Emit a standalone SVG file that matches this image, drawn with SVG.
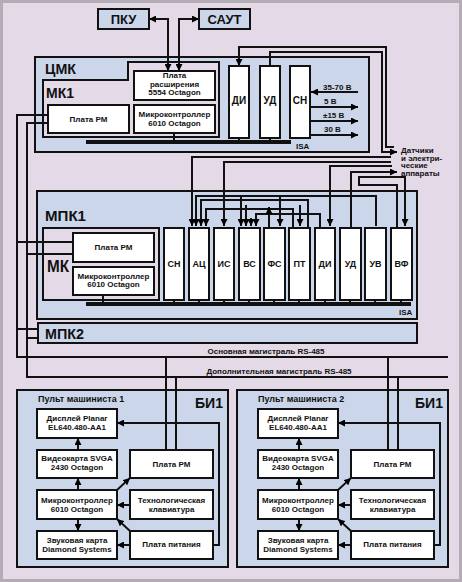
<svg xmlns="http://www.w3.org/2000/svg" width="462" height="582" viewBox="0 0 462 582">
<defs>
<marker id="ah" viewBox="0 0 10 10" refX="10" refY="5" markerWidth="7" markerHeight="7" markerUnits="userSpaceOnUse" orient="auto-start-reverse"><path d="M0,0 L10,5 L0,10 z" fill="#000"/></marker>
<style>
text{font-family:"Liberation Sans",Arial,sans-serif;fill:#111;font-weight:bold}
.bx{fill:#fff;stroke:#111;stroke-width:2}
.blue{fill:#ccd6ea;stroke:#111;stroke-width:2}
.pink{fill:#e4d9e6;stroke:#111;stroke-width:2}
.t{font-size:8px;text-anchor:middle}
.s{font-size:10px;text-anchor:middle}
.big{font-size:15px}
.w{fill:none;stroke:#111;stroke-width:2}
.a{fill:none;stroke:#111;stroke-width:2;marker-end:url(#ah)}
.aa{fill:none;stroke:#111;stroke-width:2;marker-end:url(#ah);marker-start:url(#ah)}
.bus{fill:none;stroke:#111;stroke-width:4}
</style>
</defs>
<rect x="1.5" y="1.5" width="459" height="579" fill="#e4d9e6" stroke="#b4acb4" stroke-width="3"/>

<!-- containers -->
<g id="cmk">
<rect class="blue" x="35" y="57" width="334" height="95"/>
<text class="big" x="45" y="74" textLength="31" lengthAdjust="spacingAndGlyphs">ЦМК</text>
</g>
<g id="mk1">
<path class="pink" d="M43 80 H128 V62 H219 V137 H43 Z"/>
<text class="big" x="46" y="98" textLength="28" lengthAdjust="spacingAndGlyphs">МК1</text>
</g>
<g id="mpk1">
<rect class="blue" x="37" y="191" width="380" height="128"/>
<text class="big" x="45" y="221" textLength="41" lengthAdjust="spacingAndGlyphs">МПК1</text>
</g>
<g id="mk">
<rect class="pink" x="43" y="228" width="116" height="72"/>
<text x="47" y="272" style="font-size:16px" textLength="22" lengthAdjust="spacingAndGlyphs">МК</text>
</g>
<g id="mpk2">
<rect class="blue" x="38" y="323" width="379" height="20"/>
<text class="big" x="45" y="339" textLength="39" lengthAdjust="spacingAndGlyphs">МПК2</text>
</g>
<g id="bi1-left">
<rect class="blue" x="17" y="390" width="211" height="177"/>
<text x="38" y="402" style="font-size:9px">Пульт машиниста 1</text>
<text class="big" x="195" y="408" textLength="28" lengthAdjust="spacingAndGlyphs">БИ1</text>
</g>
<g id="bi1-right">
<rect class="blue" x="237" y="390" width="211" height="177"/>
<text x="258" y="402" style="font-size:9px">Пульт машиниста 2</text>
<text class="big" x="415" y="408" textLength="28" lengthAdjust="spacingAndGlyphs">БИ1</text>
</g>

<!-- connectors -->
<g id="connectors">
<path class="aa" d="M168 71 V19 H149"/>
<path class="aa" d="M179 71 V19 H199"/>
<path class="bus" d="M86 142 H291"/>
<path class="w" d="M174 133 V142 M239 138 V142 M270 138 V142"/>
<path class="a" d="M394 147 H386 V47 H239 V66"/>
<path class="a" d="M270 66 V52 H382 V152 H397"/>
<path class="a" d="M358 92 H311"/>
<path class="a" d="M311 107 H358"/>
<path class="a" d="M311 121 H358"/>
<path class="a" d="M311 135 H358"/>
<path class="w" d="M48 115 H17 V357 H448"/>
<path class="w" d="M48 123 H27 V377 H448"/>
<path class="w" d="M73 242 H17 M73 254 H27 M38 329 H17 M38 338 H27"/>
<path class="bus" d="M86 304 H411"/>
<path class="w" d="M103 295 V304 M174 300 V304 M199 300 V304 M224 300 V304 M249 300 V304 M274 300 V304 M299 300 V304 M325 300 V304 M350 300 V304 M375 300 V304 M401 300 V304"/>
<path class="a" d="M391 157 H192 V226"/>
<path class="a" d="M391 162 H224 V226"/>
<path class="a" d="M392 166 H330 V226"/>
<path class="a" d="M351 228 V172 H397"/>
<path class="a" d="M397 228 V185 H359 V177 H405 V226"/>
<path class="a" d="M308 228 V200 H201 V226"/>
<path class="a" d="M320 228 V214 H256 V226"/>
<path class="a" d="M376 226 V196 H196 V226"/>
<path class="a" d="M241 196 V226"/>
<path class="a" d="M293 228 V209 H206 V226"/>
<path class="a" d="M280 196 V226"/>
<path class="a" d="M246 205 V226"/>
<path class="a" d="M251 218 V226"/>
<path class="a" d="M300 205 V226"/>
<path class="a" d="M269 228 V207"/>
<path class="w" d="M166 357 V450 M176 377 V450 M388 357 V450 M398 377 V450"/>
</g>

<!-- top nodes -->
<g id="pku"><rect x="98" y="9" width="51" height="20" fill="#ccd6ea" stroke="#111" stroke-width="2"/><text x="123.5" y="24" style="font-size:13px;text-anchor:middle">ПКУ</text></g>
<g id="saut"><rect x="199" y="9" width="51" height="20" fill="#ccd6ea" stroke="#111" stroke-width="2"/><text x="224.5" y="24" style="font-size:13px;text-anchor:middle">САУТ</text></g>

<!-- CMK nodes -->
<g id="cmk-rm"><rect class="bx" x="48" y="105" width="81" height="28"/><text class="t" x="88.5" y="122">Плата РМ</text></g>
<g id="cmk-ext"><rect class="bx" x="134" y="71" width="81" height="29"/><text class="t" x="174.5" y="78">Плата</text><text class="t" x="174.5" y="86.5">расширения</text><text class="t" x="174.5" y="95">5554 Octagon</text></g>
<g id="cmk-mc"><rect class="bx" x="134" y="105" width="81" height="28"/><text class="t" x="174.5" y="117">Микроконтроллер</text><text class="t" x="174.5" y="125.5">6010 Octagon</text></g>
<g id="cmk-di"><rect class="bx" x="229" y="66" width="20" height="72"/><text class="s" x="239" y="104">ДИ</text></g>
<g id="cmk-ud"><rect class="bx" x="260" y="66" width="20" height="72"/><text class="s" x="270" y="104">УД</text></g>
<g id="cmk-sn"><rect class="bx" x="290" y="66" width="20" height="72"/><text class="s" x="300" y="104">СН</text></g>
<g id="cmk-labels">
<text x="323" y="90" style="font-size:8px">35-70 В</text>
<text x="324" y="104" style="font-size:8px">5 В</text>
<text x="323" y="118" style="font-size:8px">±15 В</text>
<text x="324" y="132" style="font-size:8px">30 В</text>
<text x="296" y="149" style="font-size:8px">ISA</text>
</g>
<g id="sensors">
<text x="401" y="153" style="font-size:8px">Датчики</text>
<text x="401" y="160.5" style="font-size:8px">и электри-</text>
<text x="401" y="168" style="font-size:8px">ческие</text>
<text x="401" y="175.5" style="font-size:8px">аппараты</text>
</g>

<!-- MPK1 nodes -->
<g id="mpk1-rm"><rect class="bx" x="73" y="233" width="81" height="29"/><text class="t" x="113.5" y="250">Плата РМ</text></g>
<g id="mpk1-mc"><rect class="bx" x="73" y="267" width="81" height="28"/><text class="t" x="113.5" y="279">Микроконтроллер</text><text class="t" x="113.5" y="287">6010 Octagon</text></g>
<g id="slot-sn"><rect class="bx" x="164" y="228" width="20" height="72"/><text class="s" x="174" y="267" style="font-size:9px">СН</text></g>
<g id="slot-ac"><rect class="bx" x="189" y="228" width="20" height="72"/><text class="s" x="199" y="267" style="font-size:9px">АЦ</text></g>
<g id="slot-is"><rect class="bx" x="214" y="228" width="20" height="72"/><text class="s" x="224" y="267" style="font-size:9px">ИС</text></g>
<g id="slot-vs"><rect class="bx" x="239" y="228" width="21" height="72"/><text class="s" x="249.5" y="267" style="font-size:9px">ВС</text></g>
<g id="slot-fs"><rect class="bx" x="264" y="228" width="21" height="72"/><text class="s" x="274.5" y="267" style="font-size:9px">ФС</text></g>
<g id="slot-pt"><rect class="bx" x="289" y="228" width="21" height="72"/><text class="s" x="299.5" y="267" style="font-size:9px">ПТ</text></g>
<g id="slot-di"><rect class="bx" x="315" y="228" width="20" height="72"/><text class="s" x="325" y="267" style="font-size:9px">ДИ</text></g>
<g id="slot-ud"><rect class="bx" x="340" y="228" width="21" height="72"/><text class="s" x="350.5" y="267" style="font-size:9px">УД</text></g>
<g id="slot-uv"><rect class="bx" x="365" y="228" width="21" height="72"/><text class="s" x="375.5" y="267" style="font-size:9px">УВ</text></g>
<g id="slot-vf"><rect class="bx" x="391" y="228" width="21" height="72"/><text class="s" x="401.5" y="267" style="font-size:9px">ВФ</text></g>
<text x="399" y="315" style="font-size:8px">ISA</text>

<!-- buses labels -->
<text class="t" x="266" y="354">Основная магистраль RS-485</text>
<text class="t" x="279" y="374">Дополнительная магистраль RS-485</text>

<!-- BI1 left -->
<g id="bi1l-nodes">
<path class="a" d="M78 450 V438"/>
<path class="a" d="M78 490 V478"/>
<path class="a" d="M78 519 V531"/>
<path class="a" d="M117 490 L130 478"/>
<path class="a" d="M130 505 H117"/>
<path class="a" d="M130 531 L117 519"/>
<path class="a" d="M130 545 H117"/>
<path class="a" d="M213 545 H219 V423 H117"/>
<g id="l-disp"><rect class="bx" x="37" y="409" width="80" height="29"/><text class="t" x="77" y="421">Дисплей Planar</text><text class="t" x="77" y="429.5">EL640.480-AA1</text></g>
<g id="l-svga"><rect class="bx" x="37" y="450" width="80" height="28"/><text class="t" x="77" y="461">Видеокарта SVGA</text><text class="t" x="77" y="469.5">2430 Octagon</text></g>
<g id="l-mc"><rect class="bx" x="37" y="490" width="80" height="29"/><text class="t" x="77" y="503">Микроконтроллер</text><text class="t" x="77" y="511.5">6010 Octagon</text></g>
<g id="l-snd"><rect class="bx" x="37" y="531" width="80" height="28"/><text class="t" x="77" y="543">Звуковая карта</text><text class="t" x="77" y="551.5">Diamond Systems</text></g>
<g id="l-rm"><rect class="bx" x="130" y="450" width="83" height="28"/><text class="t" x="171.5" y="467">Плата РМ</text></g>
<g id="l-kbd"><rect class="bx" x="130" y="490" width="83" height="29"/><text class="t" x="171.5" y="503">Технологическая</text><text class="t" x="171.5" y="511.5">клавиатура</text></g>
<g id="l-pwr"><rect class="bx" x="130" y="531" width="83" height="28"/><text class="t" x="171.5" y="547">Плата питания</text></g>
</g>

<!-- BI1 right -->
<g id="bi1r-nodes" transform="translate(221,0)">
<path class="a" d="M78 450 V438"/>
<path class="a" d="M78 490 V478"/>
<path class="a" d="M78 519 V531"/>
<path class="a" d="M117 490 L130 478"/>
<path class="a" d="M130 505 H117"/>
<path class="a" d="M130 531 L117 519"/>
<path class="a" d="M130 545 H117"/>
<path class="a" d="M213 545 H219 V423 H117"/>
<g id="r-disp"><rect class="bx" x="37" y="409" width="80" height="29"/><text class="t" x="77" y="421">Дисплей Planar</text><text class="t" x="77" y="429.5">EL640.480-AA1</text></g>
<g id="r-svga"><rect class="bx" x="37" y="450" width="80" height="28"/><text class="t" x="77" y="461">Видеокарта SVGA</text><text class="t" x="77" y="469.5">2430 Octagon</text></g>
<g id="r-mc"><rect class="bx" x="37" y="490" width="80" height="29"/><text class="t" x="77" y="503">Микроконтроллер</text><text class="t" x="77" y="511.5">6010 Octagon</text></g>
<g id="r-snd"><rect class="bx" x="37" y="531" width="80" height="28"/><text class="t" x="77" y="543">Звуковая карта</text><text class="t" x="77" y="551.5">Diamond Systems</text></g>
<g id="r-rm"><rect class="bx" x="130" y="450" width="83" height="28"/><text class="t" x="171.5" y="467">Плата РМ</text></g>
<g id="r-kbd"><rect class="bx" x="130" y="490" width="83" height="29"/><text class="t" x="171.5" y="503">Технологическая</text><text class="t" x="171.5" y="511.5">клавиатура</text></g>
<g id="r-pwr"><rect class="bx" x="130" y="531" width="83" height="28"/><text class="t" x="171.5" y="547">Плата питания</text></g>
</g>
</svg>
